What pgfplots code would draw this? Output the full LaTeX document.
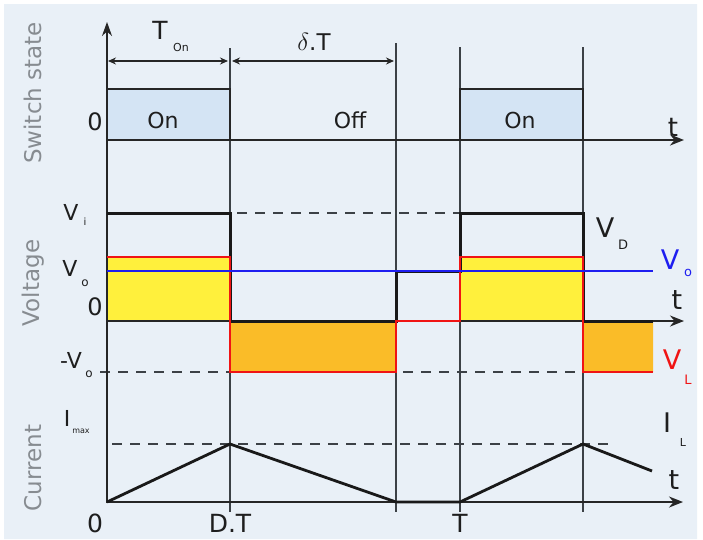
\documentclass[border=0pt]{standalone}
\usepackage{pgfplots}
\pgfplotsset{compat=1.18}
\usepackage{fontspec}
\setmainfont{DejaVu Sans}
\usetikzlibrary{arrows.meta}
\definecolor{bgc}{RGB}{233,240,247}
\definecolor{onc}{RGB}{212,228,244}
\definecolor{yel}{RGB}{255,240,60}
\definecolor{org}{RGB}{250,188,40}
\definecolor{gtxt}{RGB}{135,140,145}
\definecolor{dtxt}{RGB}{30,30,30}
\definecolor{vline}{RGB}{60,65,70}
\definecolor{myred}{RGB}{240,20,20}
\definecolor{myblue}{RGB}{30,30,240}
\newcommand{\fs}[1]{\fontsize{#1}{#1}\selectfont}
\begin{document}
\begin{tikzpicture}
\begin{axis}[x=1pt,y=1pt,xmin=0,xmax=703,ymin=0,ymax=539,y dir=reverse,
  axis lines=none,clip=false,scale only axis]
% background
\addplot[fill=white,draw=none] coordinates {(0,0)(703,0)(703,539)(0,539)(0,0)};
\addplot[fill=bgc,draw=none] coordinates {(4,4)(697,4)(697,539)(4,539)(4,4)};
% switch-state fills
\addplot[fill=onc,draw=none] coordinates {(107,89)(230,89)(230,140)(107,140)(107,89)};
\addplot[fill=onc,draw=none] coordinates {(460,89)(583,89)(583,140)(460,140)(460,89)};
% voltage fills
\addplot[fill=yel,draw=none] coordinates {(107,257)(230,257)(230,321)(107,321)(107,257)};
\addplot[fill=yel,draw=none] coordinates {(460,257)(583,257)(583,321)(460,321)(460,257)};
\addplot[fill=org,draw=none] coordinates {(230,321)(396,321)(396,372)(230,372)(230,321)};
\addplot[fill=org,draw=none] coordinates {(583,321)(653,321)(653,372)(583,372)(583,321)};
% thin vertical lines
\addplot[vline,line width=1.2pt] coordinates {(230,48)(230,512)};
\addplot[vline,line width=1.2pt] coordinates {(396,43)(396,512)};
\addplot[vline,line width=1.2pt] coordinates {(460,47)(460,512)};
\addplot[vline,line width=1.2pt] coordinates {(583,47)(583,512)};
% dashed reference lines
\addplot[vline,line width=1.4pt,dash pattern=on 10pt off 8pt] coordinates {(237,213)(460,213)};
\addplot[vline,line width=1.4pt,dash pattern=on 10pt off 8pt] coordinates {(100,372)(230,372)};
\addplot[vline,line width=1.4pt,dash pattern=on 10pt off 8pt] coordinates {(403,372)(583,372)};
\addplot[vline,line width=1.4pt,dash pattern=on 10pt off 8pt] coordinates {(112,444)(613,444)};
% dimension arrows
\addplot[black!85,line width=1.6pt,{Stealth[length=8pt,width=7pt]}-{Stealth[length=8pt,width=7pt]}] coordinates {(108,61)(228,61)};
\addplot[black!85,line width=1.6pt,{Stealth[length=8pt,width=7pt]}-{Stealth[length=8pt,width=7pt]}] coordinates {(232,61)(394,61)};
% axes
\addplot[black!85,line width=1.6pt,-{Stealth[length=14pt,width=10pt]}] coordinates {(107,503)(107,22)};
\addplot[black!85,line width=2.2pt,-{Stealth[length=14pt,width=11pt]}] coordinates {(107,140)(684,140)};
\addplot[black!85,line width=1.8pt,-{Stealth[length=14pt,width=11pt]}] coordinates {(107,321)(684,321)};
\addplot[black!85,line width=1.8pt,-{Stealth[length=14pt,width=11pt]}] coordinates {(107,502)(683,502)};
% switch waveform
\addplot[black!85,line width=2.8pt] coordinates {(107,89)(230,89)(230,140)(460,140)(460,89)(583,89)(583,140)};
% V_D
\addplot[black!90,line width=3pt] coordinates {(107,213)(230,213)(230,321)(396,321)(396,271)(460,271)(460,213)(583,213)(583,321)(653,321)};
% V_L
\addplot[myred,line width=2.1pt] coordinates {(107,257)(230,257)(230,372)(396,372)(396,321)(460,321)(460,257)(583,257)(583,372)(653,372)};
% V_o
\addplot[myblue,line width=1.6pt] coordinates {(107,271)(653,271)};
% I_L
\addplot[black!90,line width=2.8pt] coordinates {(107,502)(230,444)(396,502)(460,502)(583,444)(652,471)};
% axis titles
\node[rotate=90,text=gtxt,font=\fs{23}] at (axis cs:33,93) {Switch state};
\node[rotate=90,text=gtxt,font=\fs{23}] at (axis cs:33,283) {Voltage};
\node[rotate=90,text=gtxt,font=\fs{23}] at (axis cs:33,468) {Current};
% switch labels
\node[text=dtxt,font=\fs{24}] at (axis cs:95,122) {0};
\node[text=dtxt,font=\fs{22}] at (axis cs:163,120) {On};
\node[text=dtxt,font=\fs{22}] at (axis cs:350,120) {Off};
\node[text=dtxt,font=\fs{22}] at (axis cs:520,120) {On};
\node[text=dtxt,font=\fs{25}] at (axis cs:160,30) {T};
\node[text=dtxt,font=\fs{11}] at (axis cs:181,47) {On};
\node[text=dtxt,font=\fs{23}] at (axis cs:314,42) {$\delta$.T};
\node[text=dtxt,font=\fs{26}] at (axis cs:673,127) {t};
% voltage labels
\node[text=dtxt,font=\fs{22}] at (axis cs:71,212) {V};
\node[text=dtxt,font=\fs{10}] at (axis cs:85,222) {i};
\node[text=dtxt,font=\fs{22}] at (axis cs:70,268) {V};
\node[text=dtxt,font=\fs{12}] at (axis cs:85,283) {o};
\node[text=dtxt,font=\fs{24}] at (axis cs:95,307) {0};
\node[text=dtxt,font=\fs{22}] at (axis cs:71,360) {-V};
\node[text=dtxt,font=\fs{12}] at (axis cs:89,374) {o};
\node[text=dtxt,font=\fs{27}] at (axis cs:605,228) {V};
\node[text=dtxt,font=\fs{13}] at (axis cs:623,245) {D};
\node[text=myblue,font=\fs{27}] at (axis cs:670,260) {V};
\node[text=myblue,font=\fs{13}] at (axis cs:688,273) {o};
\node[text=dtxt,font=\fs{27}] at (axis cs:677,300) {t};
\node[text=myred,font=\fs{27}] at (axis cs:672,360) {V};
\node[text=myred,font=\fs{13}] at (axis cs:688,380) {L};
% current labels
\node[text=dtxt,font=\fs{22}] at (axis cs:67,418) {I};
\node[text=dtxt,font=\fs{8}] at (axis cs:81,431) {max};
\node[text=dtxt,font=\fs{27}] at (axis cs:667,423) {I};
\node[text=dtxt,font=\fs{11}] at (axis cs:683,442) {L};
\node[text=dtxt,font=\fs{27}] at (axis cs:674,480) {t};
\node[text=dtxt,font=\fs{25}] at (axis cs:95,523) {0};
\node[text=dtxt,font=\fs{25}] at (axis cs:230,523) {D.T};
\node[text=dtxt,font=\fs{25}] at (axis cs:460,523) {T};
\end{axis}
\end{tikzpicture}
\end{document}
